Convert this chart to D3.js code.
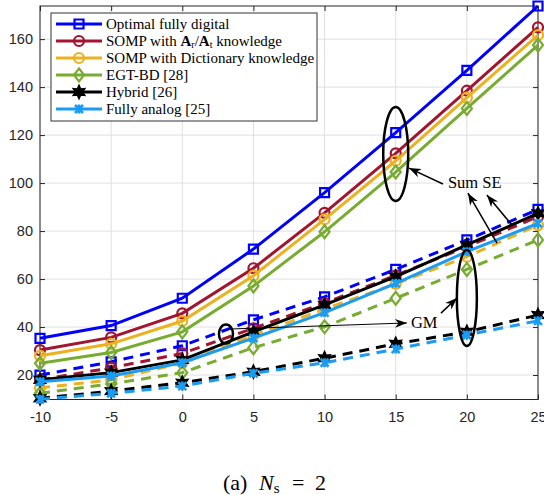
<!DOCTYPE html>
<html>
<head>
<meta charset="utf-8">
<script src="https://cdn.jsdelivr.net/npm/d3@7"></script>
<style>
body { margin: 0; background: #fff; }
svg { display: block; }
</style>
</head>
<body>
<div id="chart"></div>
<script>
// SNR (dB) на оси x
let snr = [-10, -5, 0, 5, 10, 15, 20, 25];
let xTicks = [-10, -5, 0, 5, 10, 15, 20, 25];
let yTicks = [20, 40, 60, 80, 100, 120, 140, 160];

// Sum SE (сплошные линии)
let optimalSE = [35.3, 40.6, 52, 72.5, 96, 121, 147, 173.8];
let somprSE = [30.4, 35.7, 45.7, 64.5, 87.6, 112.4, 138.5, 164.9];
let sompdSE = [28, 33, 42.5, 61.4, 84.9, 109.3, 135.6, 161.7];
let egtSE = [24.9, 29.4, 38, 57.1, 79.7, 104.6, 131.1, 157.5];
let hybridSE = [18, 21, 26.3, 38, 49.2, 61, 74.2, 87.4];
let analogSE = [17.2, 19.6, 25.1, 35.4, 46, 58.2, 71.4, 83.2];

// GM (пунктир)
let optimalGM = [20, 25.5, 32.2, 43, 52.6, 64, 76.3, 89];
let somprGM = [18, 23, 29, 39.5, 50, 61.5, 73.5, 86];
let sompdGM = [14.6, 18, 25, 36.5, 47.5, 58, 69.3, 82.5];
let egtGM = [12.4, 16.3, 21, 31.4, 40.1, 52, 64, 76.3];
let hybridGM = [10.3, 13.3, 16.8, 21.4, 27, 33, 38, 45];
let analogGM = [9.9, 12.4, 15.4, 20.7, 25.1, 30.8, 36.7, 42.6];

let names = ['Optimal fully digital', 'SOMP with Ar/At knowledge', 'SOMP with Dictionary knowledge',
	'EGT-BD [28]', 'Hybrid [26]', 'Fully analog [25]'];
let colors = ['#0000ff', '#a2142f', '#edb120', '#77ac30', '#000000', '#1a9cf5'];
let markers = ['square', 'circle', 'circle', 'diamond', 'hexagram', 'x'];
let seData = [optimalSE, somprSE, sompdSE, egtSE, hybridSE, analogSE];
let gmData = [optimalGM, somprGM, sompdGM, egtGM, hybridGM, analogGM];

let W = 544, H = 495;
let mLeft = 40, mRight = 538, mTop = 6, mBottom = 399.5;

let svg = d3.select('#chart').append('svg').attr('width', W).attr('height', H);

let x = d3.scaleLinear().domain([-10, 25]).range([mLeft, mRight]);
let y = d3.scaleLinear().domain([9.8, 173.8]).range([mBottom, mTop]);

// сетка
let grid = svg.append('g').attr('stroke', '#dfdfdf').attr('stroke-width', 1);
xTicks.forEach(t => {
	grid.append('line').attr('x1', x(t)).attr('x2', x(t)).attr('y1', mTop).attr('y2', mBottom);
});
yTicks.forEach(t => {
	grid.append('line').attr('x1', mLeft).attr('x2', mRight).attr('y1', y(t)).attr('y2', y(t));
});

// оси
let axisColor = '#262626';
let fnt = '"Liberation Sans", Arial, sans-serif';
let gx = svg.append('g').attr('transform', `translate(0,${mBottom})`)
	.call(d3.axisBottom(x).tickValues(xTicks).tickSize(-5).tickPadding(12).tickFormat(d3.format('d')));
let gxt = svg.append('g').attr('transform', `translate(0,${mTop})`)
	.call(d3.axisTop(x).tickValues(xTicks).tickSize(-5).tickFormat(''));
let gy = svg.append('g').attr('transform', `translate(${mLeft},0)`)
	.call(d3.axisLeft(y).tickValues(yTicks).tickSize(-5).tickPadding(7));
let gyr = svg.append('g').attr('transform', `translate(${mRight},0)`)
	.call(d3.axisRight(y).tickValues(yTicks).tickSize(-5).tickFormat(''));
[gx, gxt, gy, gyr].forEach(g => {
	g.select('.domain').remove();
	g.selectAll('line').attr('stroke', axisColor);
	g.selectAll('text').attr('fill', axisColor).style('font-family', fnt).style('font-size', '14.5px');
});
gx.selectAll('text').text(d => d < 0 ? '-' + Math.abs(d) : d);

svg.append('rect').attr('x', mLeft).attr('y', mTop).attr('width', mRight - mLeft).attr('height', mBottom - mTop)
	.attr('fill', 'none').attr('stroke', axisColor).attr('stroke-width', 1);

// маркеры
function markerPath(type) {
	if (type == 'square') return 'M-4.5,-4.5H4.5V4.5H-4.5Z';
	if (type == 'circle') return 'M-5,0A5,5 0 1,0 5,0A5,5 0 1,0 -5,0Z';
	if (type == 'diamond') return 'M0,-6.5L5,0L0,6.5L-5,0Z';
	if (type == 'x') return 'M-4,-4L4,4M-4,4L4,-4M0,-4.5V4.5';
	if (type == 'hexagram') {
		let p = [];
		for (let i = 0; i < 12; i++) {
			let r = i % 2 == 0 ? 7 : 3.6;
			let a = Math.PI / 6 * i - Math.PI / 2;
			p.push([r * Math.cos(a), r * Math.sin(a)]);
		}
		return 'M' + p.map(d => d[0].toFixed(2) + ',' + d[1].toFixed(2)).join('L') + 'Z';
	}
}

function drawMarker(g, type, color, px, py) {
	let m = g.append('path').attr('d', markerPath(type))
		.attr('transform', `translate(${px},${py})`)
		.attr('stroke', color).attr('stroke-width', 2.2).attr('fill', 'none');
	if (type == 'hexagram') m.attr('fill', color).attr('stroke-width', 1.2);
	if (type == 'x') m.attr('stroke-width', 2.6);
}

let line = d3.line().x((d, i) => x(snr[i])).y(d => y(d));

let plot = svg.append('g');
seData.forEach((se, k) => {
	[[se, null], [gmData[k], '10,7']].forEach(s => {
		let g = plot.append('g');
		g.append('path').datum(s[0]).attr('d', line)
			.attr('fill', 'none').attr('stroke', colors[k]).attr('stroke-width', 3)
			.attr('stroke-dasharray', s[1]);
		s[0].forEach((v, i) => drawMarker(g, markers[k], colors[k], x(snr[i]), y(v)));
	});
});

// аннотации
let serif = '"Liberation Serif", "DejaVu Serif", serif';
svg.append('defs').append('marker').attr('id', 'arr')
	.attr('viewBox', '-12 -6 14 12').attr('refX', 0).attr('refY', 0)
	.attr('markerWidth', 14).attr('markerHeight', 12).attr('markerUnits', 'userSpaceOnUse')
	.attr('orient', 'auto')
	.append('path').attr('d', 'M0,0L-12,-4.5L-8.5,0L-12,4.5Z').attr('fill', '#000');

let ell = svg.append('g').attr('fill', 'none').attr('stroke', '#000').attr('stroke-width', 2.5);
ell.append('ellipse').attr('cx', x(15)).attr('cy', y(112.1)).attr('rx', 12.5).attr('ry', 47);
ell.append('ellipse').attr('cx', x(20)).attr('cy', y(52.1)).attr('rx', 10).attr('ry', 48);
ell.append('ellipse').attr('cx', x(3.07)).attr('cy', y(37.1)).attr('rx', 7).attr('ry', 9.5);

let arrows = [
	[18.32, 99.6, 15.93, 106.25, 1.5],
	[22.12, 75, 20.08, 95.8, 1.5],
	[23.17, 82.5, 21.41, 95, 1.5],
	[3.49, 39.2, 15.79, 41.7, 1],
	[18.18, 45.8, 19.31, 52.1, 1.5]
];
arrows.forEach(a => {
	svg.append('line').attr('x1', x(a[0])).attr('y1', y(a[1])).attr('x2', x(a[2])).attr('y2', y(a[3]))
		.attr('stroke', '#000').attr('stroke-width', a[4]).attr('marker-end', 'url(#arr)');
});

svg.append('text').attr('x', x(18.67)).attr('y', y(97.9)).text('Sum SE')
	.style('font-family', serif).style('font-size', '16.5px');
svg.append('text').attr('x', x(16.07)).attr('y', y(39.6)).text('GM')
	.style('font-family', serif).style('font-size', '16.5px');

// легенда
let lg = svg.append('g');
lg.append('rect').attr('x', 51).attr('y', 13).attr('width', 266).attr('height', 108)
	.attr('fill', '#fff').attr('stroke', '#333').attr('stroke-width', 1);
names.forEach((n, k) => {
	let ly = 24 + k * 17;
	lg.append('line').attr('x1', 56).attr('x2', 102).attr('y1', ly).attr('y2', ly)
		.attr('stroke', colors[k]).attr('stroke-width', 3);
	drawMarker(lg, markers[k], colors[k], 79, ly);
	let t = lg.append('text').attr('x', 106).attr('y', ly + 5)
		.style('font-family', serif).style('font-size', '15px');
	if (k == 1) {
		t.append('tspan').text('SOMP with ');
		t.append('tspan').text('A').style('font-weight', 'bold');
		t.append('tspan').text('r').style('font-size', '10px').attr('dy', 2);
		t.append('tspan').text('/').attr('dy', -2);
		t.append('tspan').text('A').style('font-weight', 'bold');
		t.append('tspan').text('t').style('font-size', '10px').attr('dy', 2);
		t.append('tspan').text(' knowledge').attr('dy', -2);
	} else {
		t.text(n);
	}
});

// подпись
let cap = svg.append('g').style('font-family', serif).style('font-size', '22px');
cap.append('text').attr('x', 223).attr('y', 490).text('(a)');
let capN = cap.append('text').attr('x', 259).attr('y', 490);
capN.append('tspan').text('N').style('font-style', 'italic');
capN.append('tspan').text('s').style('font-size', '15px').attr('dy', 3);
cap.append('text').attr('x', 292).attr('y', 490).text('=');
cap.append('text').attr('x', 315).attr('y', 490).text('2');
</script>
</body>
</html>
